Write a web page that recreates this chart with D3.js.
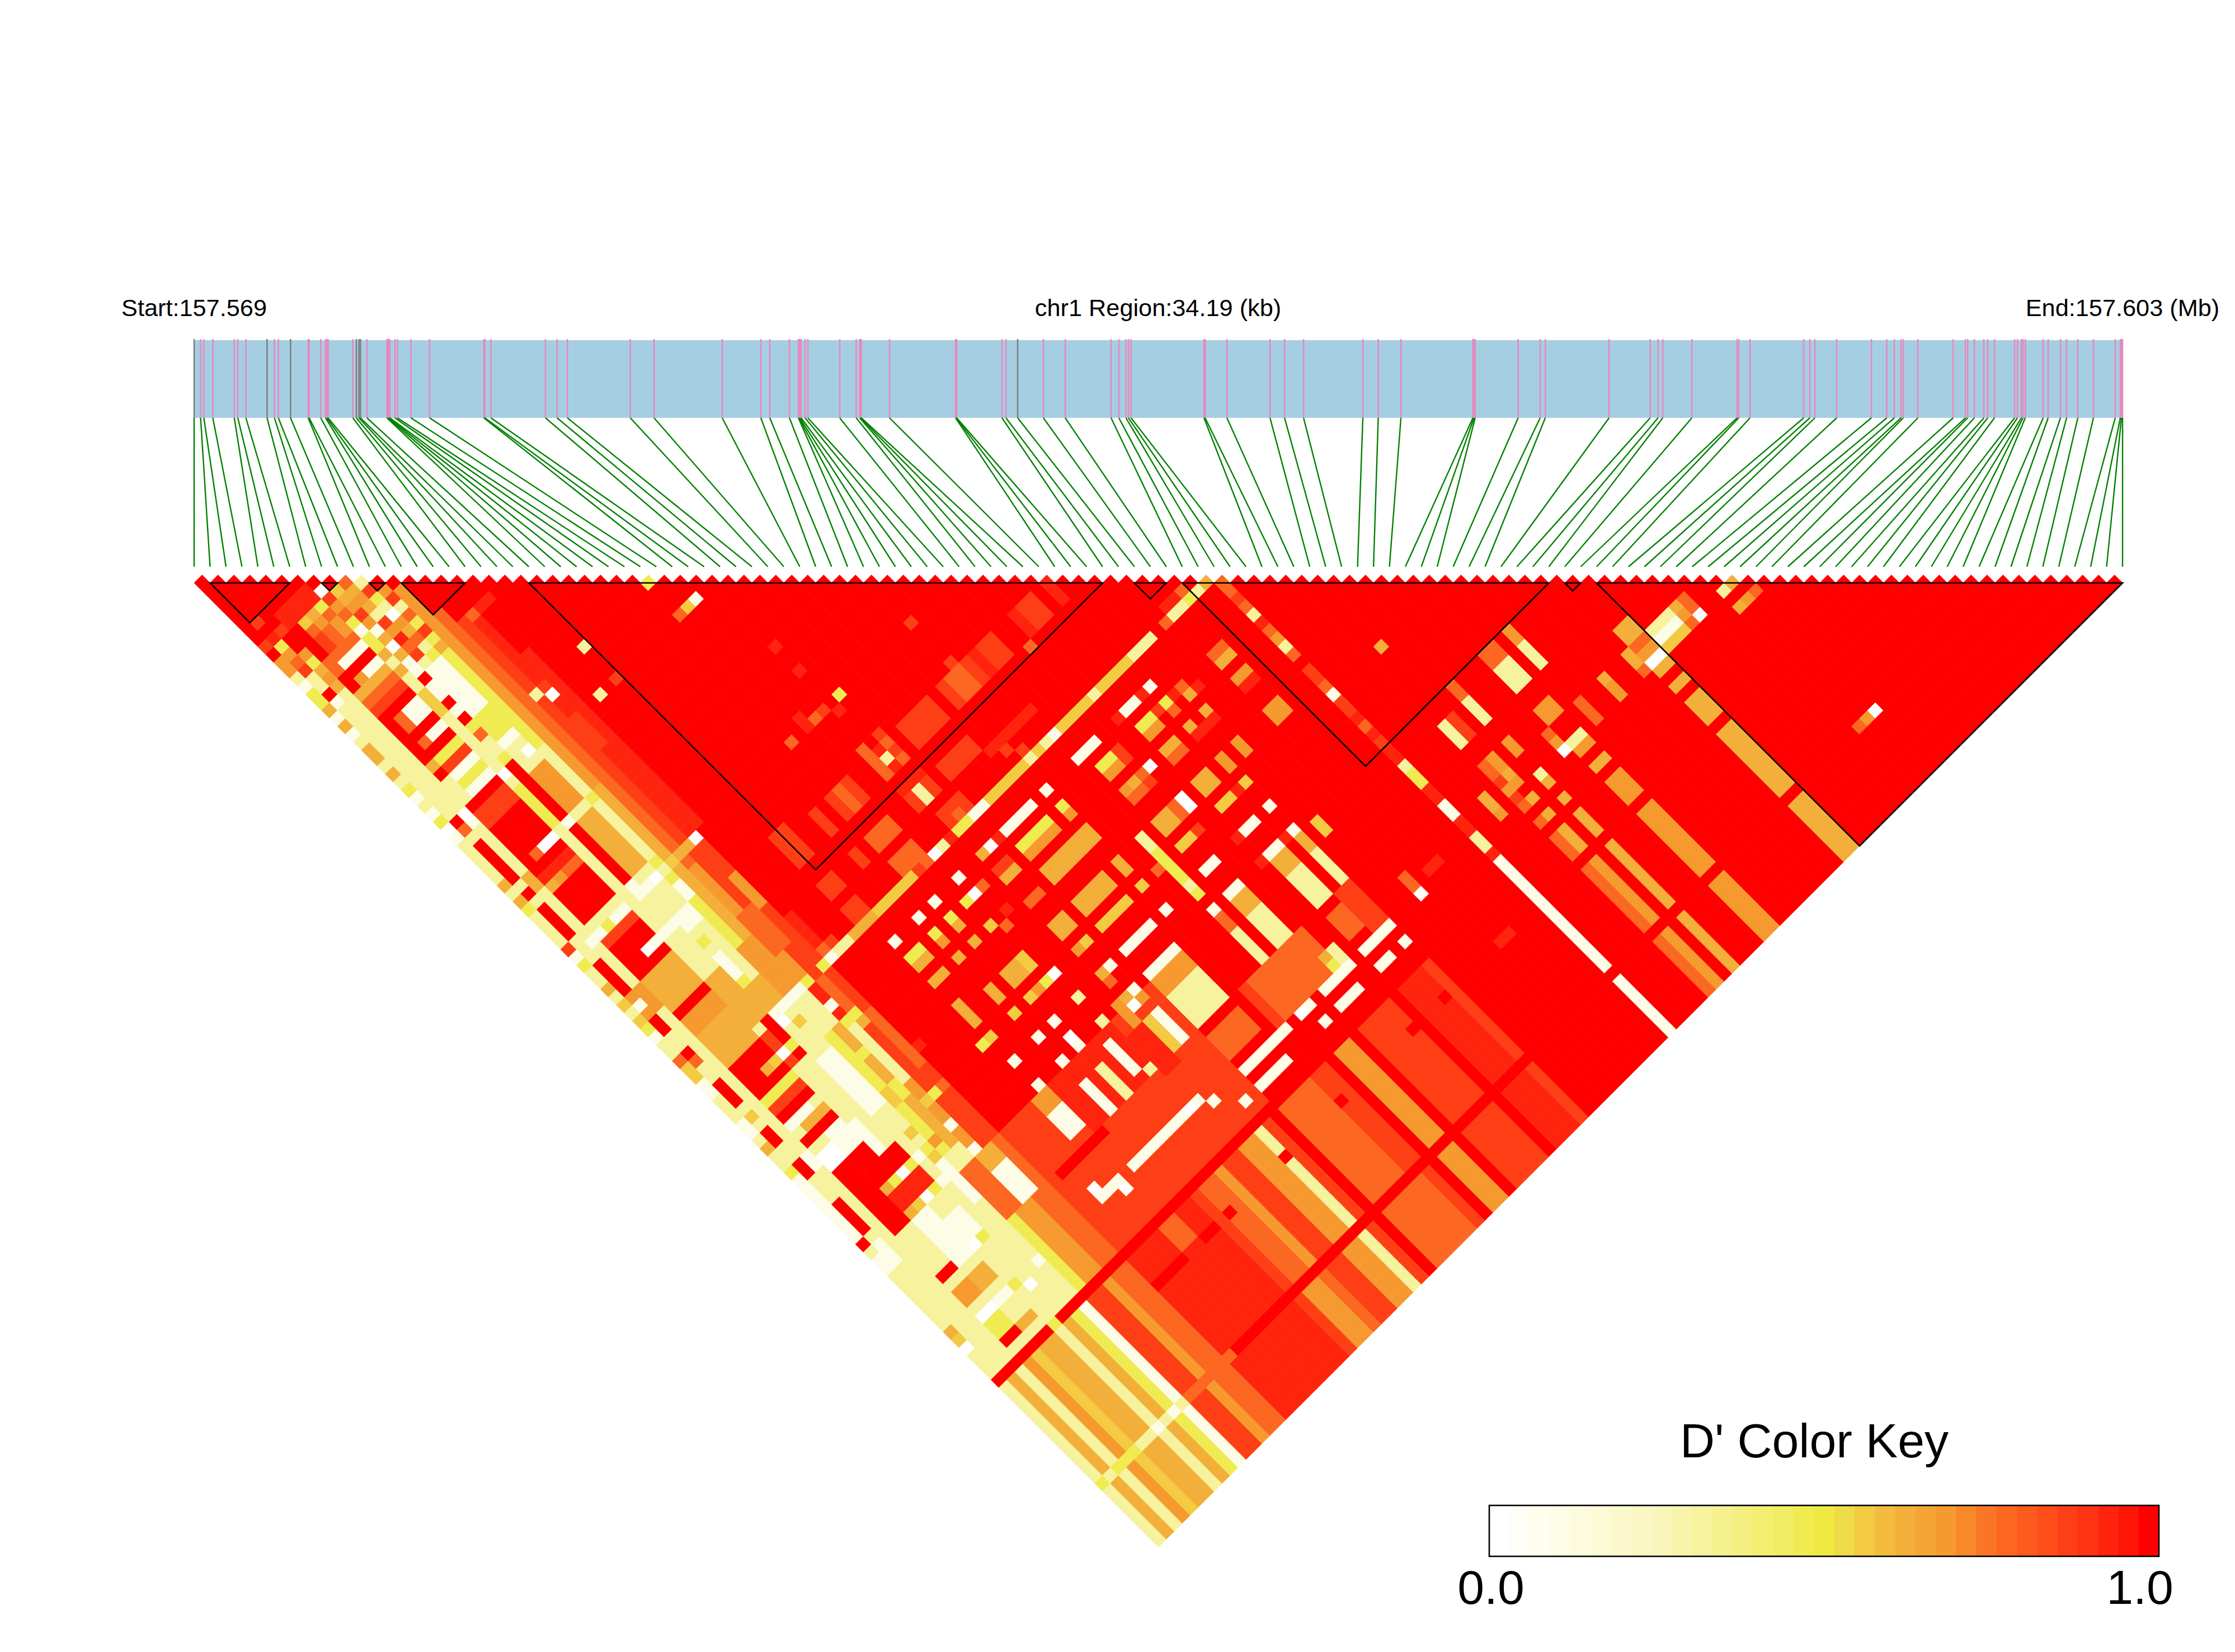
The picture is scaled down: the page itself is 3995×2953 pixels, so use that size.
<!DOCTYPE html>
<html><head><meta charset="utf-8">
<script src="https://cdn.jsdelivr.net/npm/d3@7/dist/d3.min.js"></script>
<style>html,body{margin:0;background:#fff}svg{display:block}text{font-family:"Liberation Sans",Arial,sans-serif;fill:#000}</style>
</head><body><svg id="c" width="3995" height="2953"></svg>
<script>
// SNP positions in kb from the start of the region
const snpKb=[0,.115,.172,.331,.712,.775,.918,1.293,1.424,1.493,1.709,2.022,2.039,2.245,2.33,2.353,2.376,2.814,2.876,2.922,2.95,3.064,3.417,3.434,3.451,3.469,3.56,3.606,3.844,4.175,5.137,5.154,5.262,6.229,6.435,6.617,7.733,8.154,9.363,10.048,10.206,10.554,10.713,10.722,10.737,10.762,10.832,10.881,11.446,11.739,11.799,11.814,11.829,12.329,13.5,13.51,13.52,14.323,14.393,14.601,15.057,15.444,16.257,16.395,16.521,16.565,16.611,17.904,17.924,18.311,19.075,19.333,19.67,20.721,20.994,21.396,22.672,22.692,22.712,23.474,23.865,23.955,25.086,25.815,25.954,26.038,26.554,27.354,27.386,27.585,28.537,28.646,28.735,29.122,29.737,30.01,30.144,30.263,30.303,30.561,31.186,31.405,31.444,31.563,31.731,31.8,31.919,32.276,32.326,32.395,32.425,32.465,32.782,32.871,33.089,33.198,33.397,33.674,34.06,34.15,34.17,34.19];
const greySnps=[0,7,10,18,19,20,59];
const haploBlocks=[[1,6],[8,9],[11,12],[13,17],[21,57],[59,61],[62,85],[86,87],[88,121]];
const regionLabels=["Start:157.569","chr1 Region:34.19 (kb)","End:157.603 (Mb)"];
const keyTitle="D' Color Key", keyTicks=["0.0","1.0"];
const keyStops=[0,.1,.25,.32,.5,.53,.56,.62,.68,.76,.85,.92,.97,1];
const keyColors=["#ffffff","#fdfce4","#f9f6bb","#f6f29a","#efe942","#eddc48","#f2cc42","#f3b03a","#f69e30","#fb7024","#fe4a18","#ff2c10","#ff1408","#ff0000"];
const levelCodes="WCPYGAOTFEDR";
const levelValues=[0,.1,.32,.48,.56,.62,.68,.76,.85,.92,.97,1];
// D' readings written as i:j ranges + level code; later entries overwrite earlier ones, unlisted pairs read 1.0
const leftBands="0-2:13-100P 3-6:27-100P 7-8:18-100P 9-10:15-100P 11:14-100Y 12:14-32O 12:33-100A 13:18-100T 14:20-100F 15:20-100E 16-18:20-50D 13:50-100O 14-15:50-85F 16-17:50-85D 19-20:30-50D 12-13:86-100O 14-15:86-100T 16-21:86-100F 22-34:92-100F 22-29:86-91E 30-34:86-91F";
const row0="0:9F 0:11-12O 0:13P 0:14C 0:15-16Y 0:17A 0:18C 0:19A 0:20C 0:22-23A 0:25A 0:27Y 0:28C 0:30C 0:31Y 0:32W 0:33C 0:39A 0:41A 0:42Y 0:47F 0:48C 0:49Y 0:52A 0:54G 0:56G 0:57Y 0:58C 0:61T 0:62-63G 0:64-65C 0:69-70C 0:72A 0:75Y 0:76-83C 0:84R 0:86-87C 0:95A 0:96G 0:97W";
const rows1to2="1:7F 1:8R 1:9E 1:10Y 1:11O 1:12T 1:13F 1:16R 1:17C 1:18P 1:32R 1:33T 1:35-39R 1:41R 1:43-46R 1:47P 1:50-53R 1:54-56O 2:54-56O 1:55C 1:57-58R 1:61R 1:62T 1:65-67R 1:69G 1:71-72R 2:9F 2:12O 2:13Y 2:14A 2:15O 2:16A 2:32W 2:33C 2:34-39P 2:40A 2:41A 2:48C 2:50-53P 1:75-76R 1:80-83R 1:85-87C 2:75-76C";
const group3to6="3:9-10R 4:10G 5:10A 6:10Y 4:11T 5:11O 6:11T 4:12F 5:12T 6:12O 4:13F 5:13T 6:13O 3-6:14T 3-6:8-9E 3:15T 4-6:15C 3-6:16R 3:17R 4:17O 5-6:17C 3-6:18A 3-6:19T 3-6:20F 3-6:21R 3:22-23R 4:22-23T 5-6:22-23C 3-6:24R 3:25R 4:25T 5-6:25C 3-6:26R 3:27A 4-6:27Y 3:28R 4-6:28F 3:29-31P 4-6:29-31C 4-6:30Y 3-6:32R 3-6:33-34F 3-6:35-38D 3:39R 4:39T 5-6:39W 3-6:40R 3-6:41E 3:42A 4:42O 5-6:42T 3-6:43-46D 3-6:47P 3:48C 4:48Y 5-6:48C 3-6:49F 3-6:50-53D 5:52W 6:52C 3-6:54-57A 3-6:58R 3-6:59-60O 3-6:61-64A 3-6:65-68R 5:67A 6:67G 3-6:69Y 3-6:70F 3-6:71R 3-5:72C 6:72P 4-6:73A 3-6:74R 5-6:75C 3-4:76-77W 5-6:76-77C 3-6:78R 3-8:79-81R 3-4:80-85R 5:82A 6:82Y 5-8:83-84E 5:85A 6:85G 3-4:86-87P 5-6:86-87C 3-4:88-90P 5-8:88-91C 3-4:91R 3-4:92P 3-4:93-94O 5-6:93-94A 3-4:96W 5-6:96C 3-4:95P 5-6:95P 3-4:97-98Y 5-6:97-98P 3-4:99R 5-6:99A 3-4:100P";
const group7to15="7:9W 7:10F 7:11O 8:10G 8:11A 8:12O 7:12T 9:10T 9:11A 9:12O 10:11P 10:12F 11:12R 11:13O 10:13Y 9:13A 8:13F 7:13Y 11:14F 10:14P 9:14P 8:14O 7:14C 11:15P 10:15W 9:15F 8:15C 7:15Y 7:16Y 8:16A 9:16O 10:16O 11:16T 11:17Y 10:17A 9:17E 8:17W 7:17A 11:18F 10:18T 9:18T 8:18A 7:18P 11:19Y 10:19P 9:19F 8:19C 7:19A 8:20C 9:20P 10:20Y 11:20A 7:22-24G 8:21R 8:22-23C 8:24R 8:25C 8:26R 8:27Y 8:28T 7:26-30P 9-10:21-30C 11:22-23Y 11:25Y 9-10:27-29Y 8:29-30P 8:31Y 8:32R 7:32W 10:32W 9:32P 10:33P 8:33-38R 7:34-38Y 9-10:34-38O 11:33-38P 12:33-38O 13:33-38T 14-15:33-38F 8:39C 11:39Y 9-10:39P 7:39P 8:40R 9-10:40-46A 8:41-46R 7:41-47P 11:40-46P 8:47C 9-10:47P 8:48C 9:48C 10:48W 11:48P 12:48G 13:48A 14:48A 15:48W 11:50-51C 8:50-51P 7:50-51P 7:52C 8:52C 9-10:52-53C 11:52Y 12:52A 7-8:53-56P 9:55Y 10:55P 7-10:58-63A 9:57-59C 10:57-60P 9:60Y 11-12:58-63O 13-14:56-60T 9:64C 10:64C 11-12:64C 13:64Y 9:65W 10:66G 11:65-68P 12:65-68P 13:65-69E 14:65-68T 13:67C 7:65-66F 8:64-66R 7:67W 8:67Y 8:68R 7:68F 13-14:69Y 13-14:70A 12:72Y 12:76-77Y 11:76-77G 13:70-76P 15:70-76T 7-8:72-75P 9-10:70-76C 7:76-79C 8:76-79P 14:79Y 13:79G 15:79T 13:82C 7:82W 8:82Y 9:82C 10:80G 10:82Y 10:83G 11:82O 7:85W 8:85Y 9:85C 13:85C 10:84-88C 11-12:84-88P 13-14:86-87A 11-12:86-91T 13-14:88-91C 7:91W 8:91Y 9-10:89-94P 7:96Y 8:97W 9:97P 10:96C 7-8:98-100P";
const midIslands="16:20E 17:20E 15:20T 16:24D 16:26E 16:28E 15:29F 15:30W 14:29P 18:33P 20:33F 16:27-40E 15:37-47E 16:41-47E 15:49-52F 15:53-56O 16:49-51D 16:53-57D 15:58-63F 16:59-62E 16:63T 17:63F 20-21:53-56F 24:54-56F 26:54-56F 27:54-56T 28:54-56F 31:53-56T 33:53F 33:54T 33:55F 33:56T 32:54E 32:55P 32:56E 35-38:54-56F 40:54-56F 41-42:54-56T 43:54-56F 42:53F 44:54-56E 45-46:54-56F 49:54-56E 50-51:54-56F 53:54-56E 48:57T 20-21:59-60F 20:29P 28:29Y 30:33C 29:33G 28:33T 41:44D 42:47D 42:48F 33:41D 32:41E 34:44D 32:44E 33:48Y 32:49E 31:47D 31:48F 30:48T 29:47-48E 27:47D 27:48T 24:59-60F 26-28:59-60T 31:59-60F 32:59-60P 33:59-60F 31-33:58E 35-38:59-60F 39-44:61E 26-28:62-63T 20-21:62-63F 32-34:62-63F 33:63T 40:62F 41:63F 15:64Y 16:64C 17-18:64P 19-21:64A 22-26:64G 27:64F 28:64T 29:64W 30:64P 31:64E 32-33:64Y 34-35:64C 36-45:64G 41:64P 43:64P 44:64C 46-48:64G 49:64P 50-53:64G 54-56:64P 58:64T 59-60:64P 61:64Y 62:64P 63:64A 61:63T 59-60:63E 21:67C 24:67C 26:67C 29:67C 32:67A 33:67W 34:67E 35-38:67C 40:67C 44-46:67C 49:67E 50-51:67C 52:67E 53:67C 21-22:69Y 21-22:70A 24:69Y 24:70O 26:69Y 26:70A 28:69Y 29:69W 30:69T 32-33:69F 32-33:70A 35-38:69Y 40:69Y 35-38:70O 40:70O 45-46:69Y 45-46:70O 47:69-70F 50-51:69Y 50-51:70O 52:69F 53:69Y 53:70T 54:69E 55:69T 55:70A 56:70E 21-22:72A 24:72A 26:72A 28:72G 29:73T 30:72E 35-40:72-73A 32-33:73T 16:75E 21:75-77A 24:76-77A 26-27:76-77A 28:76-77G 32-33:76-77A 35-38:76-77A 40:76-77A 43:76-77P 43:78-81Y 43:82P 43:83Y 42:79T 20:79Y 21:79G 24:79G 26:79G 27:79O 28:79Y 29:79W 32:79O 33:79G 35-38:79G 40:79G 21:82C 24:82C 26:82C 29:82P 35-38:82C 40:82C 45-46:82C 21:85C 24:85C 26:85C 29:85P 26:84W 20-21:86-87O 20-21:88-90C 33:88-91C 32:88-91G 31:85-88O 30-31:88-92E 28:87-90C 26:88-91P 24:88-91C 22-23:88-90E 29:91P 17-22:92R 35-38:92R 35-38:93-95T 39:92-96R 40:92-96F 41-44:92-96T 35-40:97C 35-38:99C 33:99C 29:96W 28:96C 30:96C 31:97C 22-27:96C 18-20:96C 20:97W 18:95W 42:97W 43:97C 43:99C";
const rightIslands="50-51:72A 50-51:73T 53:72A 53:73E 54:73E 55:72A 55:73E 56:73D 48:72W 47:72T 47:73F 46:72A 45:72O 45-46:73T 55:76-77O 53:76-77O 50-51:76-77A 45-46:76-77A 48:76-77W 47:76-77T 50-51:79G 53:79G 52:79E 45-46:79G 47:79F 53:82C 50-51:82C 49:82E 53:85C 52:85E 55:86-87G 50-51:85C 49:85E 50-51:86-87A 53:86-87A 53:88-91P 50-51:88-91P 45-46:85C 45-46:86-87A 45-46:88-91P 43:85C 43:86-87T 43:88-91P 35-38:85C 35-38:86-87O 35-38:88-91P 33:82C 32:82A 32:83T 33:85C 32:85A 32:86W 33:86O 64:65-66T 64:67F 64:68T 64:69P 64:70E 64:71T 64:72O 64:73P 64:74T 64:76-77F 64:78T 64:79C 64:80-81F 64:82E 64:83T 64:84E 64:85F 64:86-87E 64:88P 64:89-90Y 64:91E 64:92E 64:93-94C 64:95-96E 64:97-98P 64:99E 64:100-113C 64:115-121C 59-60:69T 59-60:70A 59-60:72O 59-60:73E 59-60:75D 59-60:76-77O 59-60:79D 62:79D 62:75D 62:69-70D 62-63:73D 70:79A 76-77:86-87T 76-77:88-90P 79:86-87O 79:88-90P 72:86-87T 72:88-90P 73:88D 69:88-90P 70:88-90F 72:93-94O 70:93O 69:93T 70:94O 69:94T 70:95A 70:96O 69:96O 69:95F 69:97F 69:98T 67:95-96A 67:97O 76-77:93-94O 79:95T 79:96-97T 75:95T 75:96O 75:97W 76-77:97P 76-77:98O 76-77:100A 76-77:102-104O 76-77:106-113O 76-77:115-121O 72:97P 72:98A 72:100A 72:102-104A 72:106-113A 72:115-121A 70:98A 70:100A 69:100T 70:102-104A 69:102-104T 70:106-113O 69:106-113T 70:115-121O 69:115-121T 82:95A 82:96O 82:97O 85:95A 85:96A 85:97T 86-87:93-94A 86-87:95T 86-87:96O 86-87:97W 86-87:98A 86-87:100A 86-87:102-104A 86-87:106-113A 86-87:115-121A 88:92-93D 88:98D 88:100D 88:102-104D 88:106-113D 88:115-121D 88-90:95P 88-90:96C 88-90:97G 91:95A 91:96O 91:97T 92:95-96T 92:97W 96:97A 95:97P 97:99T 96:99O 95:99A 97:114W 96:114O 95:114T 59-60:92-98D 59-60:96E 59-60:100D 59-60:102-113D 59-60:105E 50-51:93-94T 50-51:95T 52-53:92-96F 45-47:92-96T 55-58:92-95D 57:95-96T 57:97W 50-53:97C 53:99C 50-51:99C 47:95A 47:96Y 48:95-96P 48:97C 45-47:97C 45-47:99C";
const bottomPlaid="54-61:102-113D 54-61:115-121D 59-60:105E 50-53:102-113E 52:105R 53:102-121F 50-52:115-121E 49:102-121R 45-48:102-113F 48:105R 45-48:115-121F 44:102-121R 42-43:102-113O 42-43:115-121O 41:102-121R 39-40:102-113F 35-38:102-113T 35-39:115-121T 40:115-121F 39:105R 34:102-121R 33:102-121F 32:102-121P 32:105R 30-31:102-121O 28-29:102-121F 27:102-113O 27:115-121T 25-26:102-113T 25-26:115-121O 25:105R 24:102-121F 20-23:102-121E 22-23:105R 20-21:102-104T 16-19:102-121E 16-19:105R 15:105R 14-15:102-121T 13:102-121O 11-12:102-121F 10:102-121C 9:102-121Y 8:102-121A 7:102-121P 5-6:102-121A 4:102-121G 3:102-121O 2:102-121P 1:102-121A 0:102-121P 17-53:114R 0:114Y 1:114P 2:114Y 3:114Y 4:114Y 5:114P 6:114P 7:114C 8:114P 9:114C 10:114P 11-16:114T 0-6:101R 7:101Y 8-57:101R 64:114R";
const ldGroups=[leftBands,row0,rows1to2,group3to6,group7to15,midIslands,rightIslands,bottomPlaid];

const N=snpKb.length, dx=(3794-347)/(N-1), half=dx/2;
const xGenome=d3.scaleLinear().domain([0,34.19]).range([347,3794]);
const xIdx=d3.scaleLinear().domain([0,N-1]).range([347,3794]);
const yRow=d3.scaleLinear().domain([0,N-2]).range([1042,1042+(N-2)*half]);
const colorInterp=d3.scaleLinear().domain(keyStops).range(keyColors).interpolate(d3.interpolateRgb);
const keyCells=d3.range(33).map(k=>colorInterp(k/32));
const color=d3.scaleQuantize().domain([0,1]).range(keyCells);

const ld=d3.range(N).map(()=>new Array(N).fill(1));
ldGroups.forEach(g=>g.trim().split(/\s+/).forEach(t=>{
  const m=t.match(/^(\d+)(?:-(\d+))?:(\d+)(?:-(\d+))?([A-Z])$/); if(!m)return;
  const a=+m[1],b=m[2]?+m[2]:a,c=+m[3],d=m[4]?+m[4]:c,v=levelValues[levelCodes.indexOf(m[5])];
  for(let i=a;i<=b;i++)for(let j=Math.max(c,i+1);j<=d&&j<N;j++)ld[i][j]=v;
}));
const cells=[];for(let i=0;i<N;i++)for(let j=i+1;j<N;j++)cells.push({i,j,v:ld[i][j]});

const svg=d3.select("#c");
[[347],[2070],[3794]].forEach((p,k)=>svg.append("text").attr("x",p[0]).attr("y",565).attr("text-anchor","middle").attr("font-size",43.3).text(regionLabels[k]));
svg.append("rect").attr("x",347).attr("y",608).attr("width",3447).attr("height",139).attr("fill","#a6cee3");
svg.append("g").selectAll("line").data(snpKb).join("line").attr("x1",d=>xGenome(d)).attr("x2",d=>xGenome(d)).attr("y1",606).attr("y2",747)
 .attr("stroke",(d,i)=>greySnps.includes(i)?"#808080":"#e58abf").attr("stroke-width",2.6);
svg.append("g").selectAll("line").data(snpKb).join("line").attr("x1",d=>xGenome(d)).attr("x2",(d,i)=>xIdx(i)).attr("y1",747).attr("y2",1013)
 .attr("stroke","#008000").attr("stroke-width",2.4);
svg.append("g").selectAll("path").data(cells).join("path")
 .attr("d",c=>{const x=xIdx((c.i+c.j)/2),y=yRow(c.j-c.i-1);return `M${x-half},${y}L${x},${y-half}L${x+half},${y}L${x},${y+half}Z`;})
 .attr("fill",c=>color(c.v)).attr("stroke",c=>color(c.v)).attr("stroke-width",1);
svg.append("g").selectAll("path").data(haploBlocks).join("path")
 .attr("d",([a,b])=>{const xa=xIdx(a),xb=xIdx(b),y=yRow(0);return `M${xa},${y}L${xb},${y}L${(xa+xb)/2},${y+(xb-xa)/2}Z`;})
 .attr("fill","none").attr("stroke","#000").attr("stroke-width",2.6);
const kx=d3.scaleBand().domain(d3.range(33)).range([2662,3859]);
svg.append("g").selectAll("rect").data(keyCells).join("rect").attr("x",(d,i)=>kx(i)).attr("y",2691).attr("width",kx.bandwidth()+.5).attr("height",91).attr("fill",d=>d);
svg.append("rect").attr("x",2662).attr("y",2691).attr("width",1197).attr("height",91).attr("fill","none").attr("stroke","#000").attr("stroke-width",2.6);
svg.append("text").attr("x",3243).attr("y",2605).attr("text-anchor","middle").attr("font-size",86).text(keyTitle);
[[2665],[3825]].forEach((p,k)=>svg.append("text").attr("x",p[0]).attr("y",2867).attr("text-anchor","middle").attr("font-size",86).text(keyTicks[k]));
</script></body></html>
